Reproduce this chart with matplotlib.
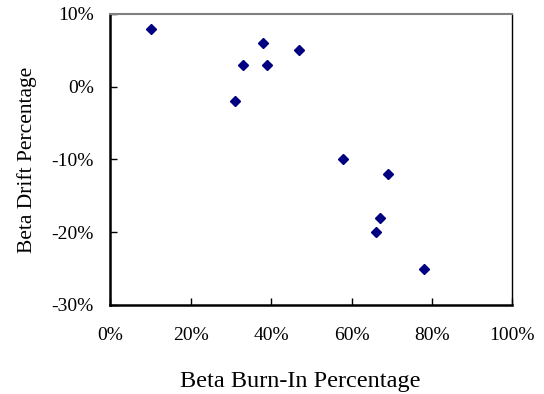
import matplotlib
matplotlib.use("Agg")
import matplotlib.pyplot as plt
from matplotlib.ticker import FuncFormatter

burn_in = [10, 33, 38, 39, 31, 47, 58, 69, 67, 66, 78]
drift = [8, 3, 6, 3, -2, 5, -10, -12, -18, -20, -25]

x_ticks = [0, 20, 40, 60, 80, 100]
y_ticks = [-30, -20, -10, 0, 10]

plt.rcParams['font.family'] = ['Liberation Serif', 'DejaVu Serif']

fig = plt.figure(figsize=(5.44, 3.94), dpi=100)
ax = fig.add_axes([0.2028, 0.2259, 0.9417 - 0.2028, 0.9645 - 0.2259])

ax.plot(burn_in, drift, linestyle='none', marker='D', markersize=5.5,
        color='#000080', markeredgecolor='#000080')

ax.set_xlim(0, 100)
ax.set_ylim(-30, 10)
ax.set_xticks(x_ticks)
ax.set_yticks(y_ticks)
fmt = FuncFormatter(lambda v, p: f"{int(round(v))}%")
ax.xaxis.set_major_formatter(fmt)
ax.yaxis.set_major_formatter(fmt)

ax.tick_params(axis='both', direction='in', length=5, width=1, labelsize=14, colors='black')
ax.tick_params(axis='y', pad=12)
ax.tick_params(axis='x', pad=16)
ax.tick_params(top=False, right=False)

ax.spines['left'].set_linewidth(1.8)
ax.spines['bottom'].set_linewidth(1.8)
ax.spines['right'].set_linewidth(1.0)
ax.spines['top'].set_linewidth(1.5)
ax.spines['top'].set_color('#808080')

ax.set_xlabel('Beta Burn-In Percentage', fontsize=17.5, labelpad=19)
ax.xaxis.label.set_x(0.472)
ax.set_ylabel('Beta Drift Percentage', fontsize=15.5, labelpad=10)

fig.savefig('out.png', dpi=100)
